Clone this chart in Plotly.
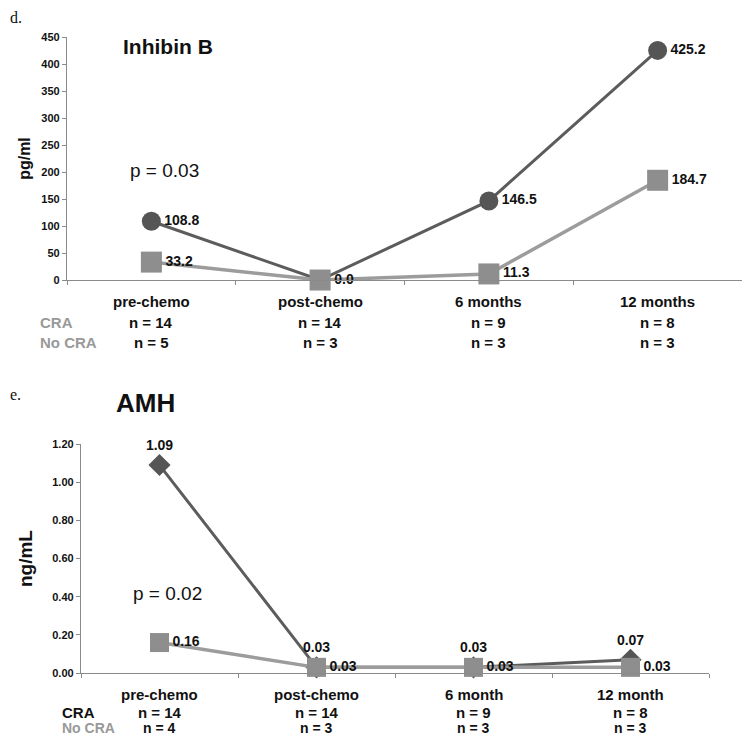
import plotly.graph_objects as go

# measured placement of the figure in the photographed page:
# page_x = 8 + fig_x ; page_y = 14 + 0.9835 * fig_y
OFFX = 8
OFFY, SY = 14.0, 0.9835
W, H = 734, 733

# ---- Panel d: Inhibin B ----
inh_categories = ["pre-chemo", "post-chemo", "6 months", "12 months"]
inh_dark = [108.8, 0.0, 146.5, 425.2]
inh_dark_labels = ["108.8", "", "146.5", "425.2"]
inh_light = [33.2, 0.0, 11.3, 184.7]
inh_light_labels = ["33.2", "0.0", "11.3", "184.7"]
inh_n_cra = ["n = 14", "n = 14", "n = 9", "n = 8"]
inh_n_nocra = ["n = 5", "n = 3", "n = 3", "n = 3"]

# ---- Panel e: AMH ----
amh_categories = ["pre-chemo", "post-chemo", "6 month", "12 month"]
amh_dark = [1.09, 0.03, 0.03, 0.07]
amh_dark_labels = ["1.09", "0.03", "0.03", "0.07"]
amh_light = [0.16, 0.03, 0.03, 0.03]
amh_light_labels = ["0.16", "0.03", "0.03", "0.03"]
amh_n_cra = ["n = 14", "n = 14", "n = 9", "n = 8"]
amh_n_nocra = ["n = 4", "n = 3", "n = 3", "n = 3"]

DARK = "#555555"
DARK_LINE = "#5c5c5c"
LIGHT = "#8e8e8e"
LIGHT_LINE = "#9c9c9c"
FONT = "Liberation Sans, Arial, sans-serif"
LBL = dict(family=FONT, size=14, color="#111111", weight="bold")


def px(x):
    return min(1.0, max(0.0, (x - OFFX) / W))


def py(y):
    f = (y - OFFY) / SY
    return min(1.0, max(0.0, 1 - f / H))


fig = go.Figure()

# Inhibin B traces
fig.add_trace(go.Scatter(x=inh_categories, y=inh_dark, mode="lines+markers+text",
                         text=inh_dark_labels, textposition="middle right", textfont=LBL,
                         line=dict(color=DARK_LINE, width=3),
                         marker=dict(symbol="circle", size=19, color=DARK),
                         cliponaxis=False, xaxis="x", yaxis="y", showlegend=False))
fig.add_trace(go.Scatter(x=inh_categories, y=inh_light, mode="lines+markers+text",
                         text=inh_light_labels, textposition="middle right", textfont=LBL,
                         line=dict(color=LIGHT_LINE, width=3.5),
                         marker=dict(symbol="square", size=21, color=LIGHT),
                         cliponaxis=False, xaxis="x", yaxis="y", showlegend=False))

# AMH traces
fig.add_trace(go.Scatter(x=amh_categories, y=amh_dark, mode="lines+markers+text",
                         text=amh_dark_labels, textposition="top center", textfont=LBL,
                         line=dict(color=DARK_LINE, width=3),
                         marker=dict(symbol="diamond", size=17, color=DARK),
                         cliponaxis=False, xaxis="x2", yaxis="y2", showlegend=False))
fig.add_trace(go.Scatter(x=amh_categories, y=amh_light, mode="lines+markers+text",
                         text=amh_light_labels, textposition="middle right", textfont=LBL,
                         line=dict(color=LIGHT_LINE, width=3.5),
                         marker=dict(symbol="square", size=19, color=LIGHT),
                         cliponaxis=False, xaxis="x2", yaxis="y2", showlegend=False))

axis_common = dict(showgrid=False, zeroline=False, showline=True, linecolor="#8a8a8a",
                   linewidth=1.3, ticks="outside", ticklen=4, tickcolor="#8a8a8a")

fig.update_layout(
    width=W, height=H, margin=dict(l=0, r=0, t=0, b=0),
    paper_bgcolor="white", plot_bgcolor="white",
    xaxis=dict(domain=[px(67), px(743)], anchor="y", type="category",
               range=[-0.5, 3.5], tickson="boundaries", showticklabels=False, **axis_common),
    yaxis=dict(domain=[py(280), py(37)], anchor="x", range=[0, 450], dtick=50,
               tickfont=dict(family=FONT, size=11, color="#111", weight="bold"),
               title=dict(text="pg/ml", font=dict(family=FONT, size=16, color="#111", weight="bold"),
                          standoff=6),
               **axis_common),
    xaxis2=dict(domain=[px(81), px(709)], anchor="y2", type="category",
                range=[-0.5, 3.5], tickson="boundaries", showticklabels=False, **axis_common),
    yaxis2=dict(domain=[py(673), py(444)], anchor="x2", range=[0, 1.2], dtick=0.2,
                tickformat=".2f",
                tickfont=dict(family=FONT, size=11, color="#111", weight="bold"),
                title=dict(text="ng/mL", font=dict(family=FONT, size=19, color="#111", weight="bold"),
                           standoff=14),
                **axis_common),
)

ann = []


def note(text, x, y, font, xref="paper", xanchor="center"):
    ann.append(dict(text=text, x=x, y=y, xref=xref, yref="paper", xanchor=xanchor,
                    yanchor="middle", showarrow=False, font=font))


SERIF = dict(family="Liberation Serif, Times New Roman, serif", size=16, color="#111")
note("d.", px(7), py(17), SERIF, xanchor="left")
note("e.", px(7), py(394), SERIF, xanchor="left")
note("Inhibin B", px(168), py(46), dict(family=FONT, size=21, color="#111", weight="bold"))
note("AMH", px(145), py(403), dict(family=FONT, size=26, color="#111", weight="bold"))
note("p = 0.03", px(164), py(170), dict(family=FONT, size=19, color="#111"))
note("p = 0.02", px(167), py(593), dict(family=FONT, size=19, color="#111"))

ROW = dict(family=FONT, size=15, color="#111", weight="bold")
GRAY = dict(family=FONT, size=15, color="#999999", weight="bold")
CAT = dict(family=FONT, size=15, color="#111", weight="bold")
ROW_S = dict(family=FONT, size=14, color="#111", weight="bold")
GRAY_S = dict(family=FONT, size=14, color="#999999", weight="bold")

# top category rows
note("CRA", px(38), py(322), GRAY, xanchor="left")
note("No CRA", px(38), py(342), GRAY, xanchor="left")
for c, a, b in zip(inh_categories, inh_n_cra, inh_n_nocra):
    note(c, c, py(301), CAT, xref="x")
    note(a, c, py(322), ROW, xref="x")
    note(b, c, py(342), ROW, xref="x")

# bottom category rows (kept inside the page's bottom edge)
note("CRA", px(60), py(712), ROW, xanchor="left")
note("No CRA", px(60), py(728), GRAY_S, xanchor="left")
for c, a, b in zip(amh_categories, amh_n_cra, amh_n_nocra):
    note(c, c, py(694), CAT, xref="x2")
    note(a, c, py(712), ROW, xref="x2")
    note(b, c, py(728), ROW_S, xref="x2")

fig.update_layout(annotations=ann)
fig.write_html("out.html")
